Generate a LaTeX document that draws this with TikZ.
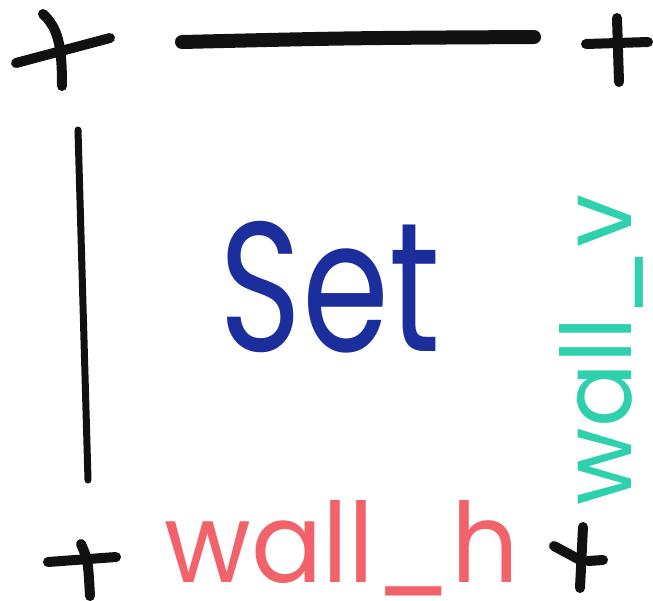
\documentclass[tikz,border=0pt]{standalone}
\usepackage{fontspec}
\setmainfont{Poppins}
\definecolor{inkblack}{HTML}{111111}
\definecolor{inkblue}{HTML}{1C2E9C}
\definecolor{inkred}{HTML}{F2626A}
\definecolor{inkteal}{HTML}{2FD0AE}
\tikzset{
  pen/.style={draw=inkblack, line width=10pt, line cap=round, line join=round},
  word/.style={inner sep=0pt, anchor=center},
}
\begin{document}
\begin{tikzpicture}[x=1pt,y=-1pt]
\useasboundingbox (0,0) rectangle (653,600);
% crosses
\draw[pen] (43,14) .. controls (58,28) and (62,45) .. (62,86);
\draw[pen] (16,63) -- (110,38);
\draw[pen] (617,18) -- (619,82);
\draw[pen] (586,44) -- (648,42);
\draw[pen] (81,544) .. controls (88,560) .. (90,596);
\draw[pen] (48,562) -- (116,557);
\draw[pen] (583,527) -- (580,588);
\draw[pen] (554,546) -- (580,560);
\draw[pen] (588,561) -- (603,560);
% walls
\draw[pen, line width=14pt] (182,42) .. controls (350,38) .. (534,37);
\draw[pen, line width=7pt] (78,130) -- (88,480);
% text
\node[word, text=inkblue] (set) at (330,287) {\resizebox{220pt}{130pt}{Set}};
\node[word, text=inkred] (wallh) at (342,548) {\resizebox{355pt}{82pt}{wall\_h}};
\node[word, text=inkteal, rotate=90] (wallv) at (601,350) {\resizebox{310pt}{72pt}{wall\_v}};
\end{tikzpicture}
\end{document}
